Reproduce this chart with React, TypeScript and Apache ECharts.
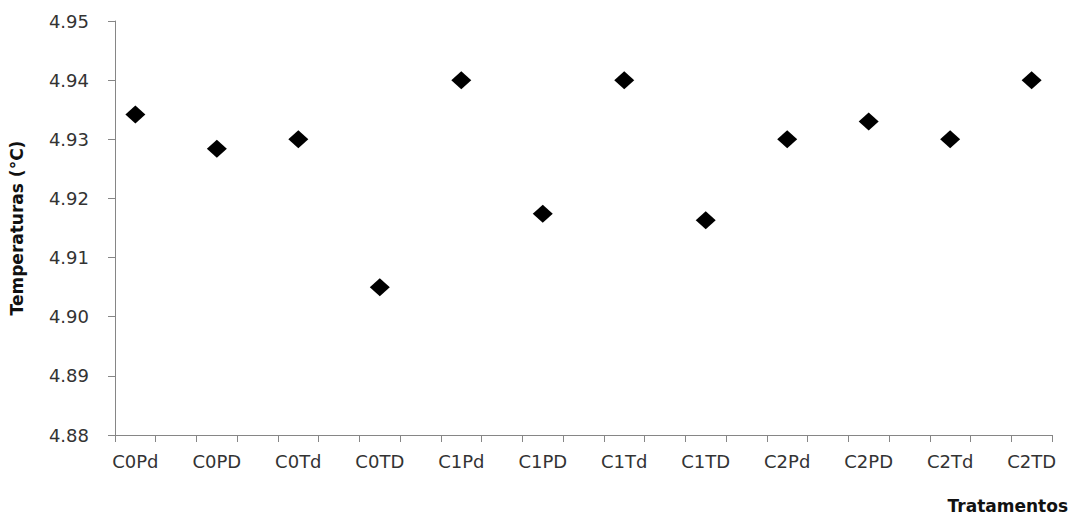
import React, { useEffect, useRef } from "react";
import * as echarts from "echarts";

const treatments = ["C0Pd", "C0PD", "C0Td", "C0TD", "C1Pd", "C1PD", "C1Td", "C1TD", "C2Pd", "C2PD", "C2Td", "C2TD"];
const temperatures = [4.9342, 4.9284, 4.93, 4.905, 4.94, 4.9174, 4.94, 4.9163, 4.93, 4.933, 4.93, 4.94];
const yMin = 4.88;
const yMax = 4.95;
const yStep = 0.01;
const yTitle = "Temperaturas (°C)";
const xTitle = "Tratamentos";

// The original chart has a blank slot between every treatment (ticks at half spacing)
const axisCategories: string[] = treatments.flatMap((t, i) => (i < treatments.length - 1 ? [t, ""] : [t]));
const seriesData: (number | string)[] = temperatures.flatMap((v, i) => (i < temperatures.length - 1 ? [v, "-"] : [v]));

const FONT = "'DejaVu Sans', sans-serif";

export default function App() {
  const ref = useRef<HTMLDivElement>(null);
  useEffect(() => {
    if (!ref.current) return;
    const chart = echarts.init(ref.current, undefined, { renderer: "svg" });
    chart.setOption({
      animation: false,
      backgroundColor: "#ffffff",
      grid: { left: 112, right: 23, top: 21, bottom: 84, containLabel: false },
      xAxis: {
        type: "category",
        data: axisCategories,
        boundaryGap: true,
        axisLine: { show: true, lineStyle: { color: "#868686", width: 1 } },
        axisTick: { show: true, interval: 0, length: 7, lineStyle: { color: "#868686" } },
        axisLabel: { interval: 0, margin: 17, color: "#333", fontFamily: FONT, fontSize: 18 },
        splitLine: { show: false },
      },
      yAxis: {
        type: "value",
        min: yMin,
        max: yMax,
        interval: yStep,
        name: yTitle,
        nameLocation: "middle",
        nameGap: 90,
        nameTextStyle: { color: "#111", fontFamily: FONT, fontSize: 17, fontWeight: "bold" },
        axisLine: { show: true, lineStyle: { color: "#868686", width: 1 } },
        axisTick: { show: true, length: 7, lineStyle: { color: "#868686" } },
        axisLabel: {
          margin: 26,
          color: "#333",
          fontFamily: FONT,
          fontSize: 18,
          formatter: (v: number) => v.toFixed(2),
        },
        splitLine: { show: false },
      },
      graphic: [
        {
          type: "text",
          right: 7,
          top: 497,
          style: { text: xTitle, fill: "#111", font: `bold 17px ${FONT}` },
        },
      ],
      series: [
        {
          type: "scatter",
          data: seriesData,
          symbol: "diamond",
          symbolSize: [20, 18],
          itemStyle: { color: "#000000", opacity: 1 },
        },
      ],
    });
    return () => chart.dispose();
  }, []);
  return <div ref={ref} style={{ position: "fixed", left: 0, top: 0, width: 1075, height: 519 }} />;
}
